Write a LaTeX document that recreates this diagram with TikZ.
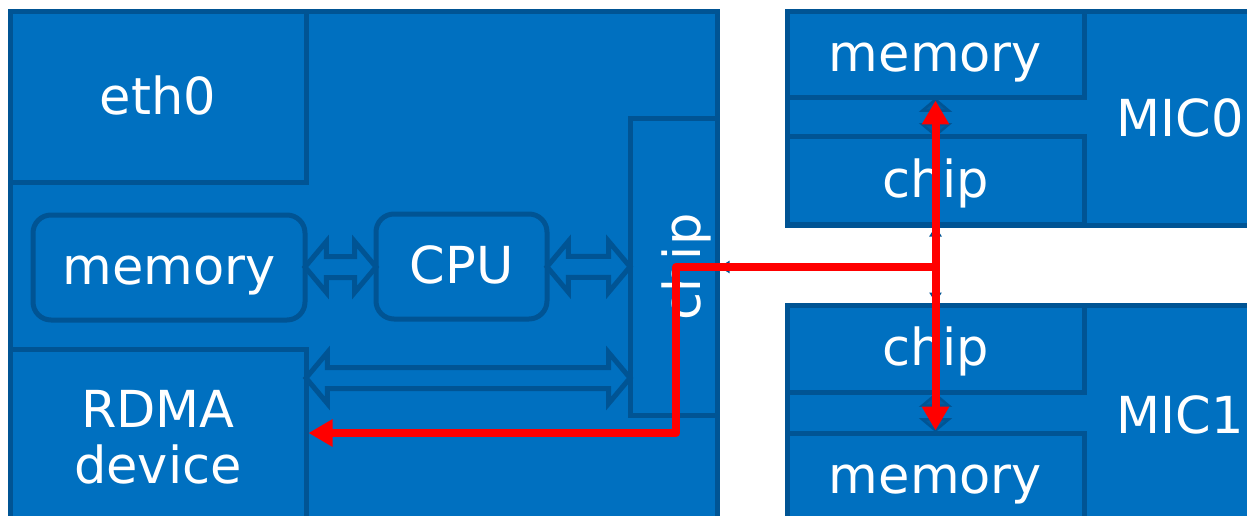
\documentclass[tikz,border=0pt]{standalone}
\usepackage{fontspec}
\setmainfont{DejaVu Sans}
\usetikzlibrary{shapes.arrows,arrows.meta,calc}
\definecolor{boxblue}{RGB}{0,112,192}
\definecolor{edgeblue}{RGB}{0,84,148}
\begin{document}
\begin{tikzpicture}[x=1pt, y=-1pt, >={Triangle[width=26pt,length=24pt]},
  txt/.style={text=white, font=\fontsize{51}{56}\selectfont, inner sep=0pt, align=center},
  one/.style={text height=46pt, text depth=12pt},
  blk/.style={txt, draw=edgeblue, fill=boxblue, line width=5pt},
  bus/.style={double arrow, draw=edgeblue, fill=boxblue, line width=5pt, inner xsep=0pt, inner ysep=8pt, double arrow head extend=15pt, double arrow tip angle=100},
  vbus/.style={bus, shape border rotate=90, fill=edgeblue!70!boxblue, inner ysep=9pt, double arrow head extend=12pt, line width=2.5pt},
  link/.style={draw=edgeblue, line width=2.5pt, -{Triangle[width=12pt,length=10pt]}},
  redline/.style={draw=red, line width=8pt, line join=round}]
\clip (0,0) rectangle (1247,516);
\node[blk, minimum width=707pt, minimum height=548pt] (host) at (363.5,286) {};
\node[blk, one, minimum width=296pt, minimum height=170pt] (eth) at (158,97) {eth0};
\node[blk, one, rounded corners=18pt, minimum width=272pt, minimum height=105pt] (mem) at (169,267.5) {memory};
\node[blk, one, rounded corners=18pt, minimum width=171pt, minimum height=105pt] (cpu) at (461.5,266.5) {CPU};
\node[blk, minimum width=87pt, minimum height=296pt] (chip) at (673.5,267) {};
\node[txt, one, rotate=90] (chiptxt) at ([xshift=10pt]chip.center) {chip};
\node[blk, minimum width=296pt, minimum height=176pt] (rdma) at (158,437) {RDMA\\device};
\coordinate (busy) at (0,378);
\node[bus, minimum height=71pt] (memcpu) at ($(mem.east)!0.5!(cpu.west)$) {};
\node[bus, minimum height=83pt] (cpuchip) at ($(cpu.east)!0.5!(chip.west)$) {};
\node[bus, minimum height=324pt] (rdmachip) at ($(rdma.east |- busy)!0.5!(chip.west |- busy)$) {};
\node[blk, minimum width=503pt, minimum height=213pt] (mic0) at (1038.5,118.5) {};
\node[blk, one, minimum width=297pt, minimum height=86pt] (mem0) at (935.5,55) {memory};
\node[blk, one, minimum width=297pt, minimum height=87pt] (chip0) at (935.5,180.5) {chip};
\node[txt, one] (mic0txt) at (1180,120) {MIC0};
\node[vbus, minimum height=36pt] (v0) at ($(mem0.south)!0.5!(chip0.north)$) {};
\node[blk, minimum width=503pt, minimum height=255pt] (mic1) at (1038.5,432.5) {};
\node[blk, one, minimum width=297pt, minimum height=87pt] (chip1) at (935.5,348.5) {chip};
\node[blk, one, minimum width=297pt, minimum height=87pt] (mem1) at (935.5,476.5) {memory};
\node[txt, one] (mic1txt) at (1180,416) {MIC1};
\node[vbus, minimum height=36pt] (v1) at ($(chip1.south)!0.5!(mem1.north)$) {};
\coordinate (hub) at (mem0.south |- chip.center);
\coordinate (bend) at (676,433);
\draw[link] (hub) -- (chip.east |- hub);
\draw[link] (hub) -- (chip0.south);
\draw[link] (hub) -- (chip1.north);
\draw[redline, <->] (mem0.south) -- (mem1.north);
\draw[redline, ->] (hub) -| (bend) -- (bend -| rdma.east);
\end{tikzpicture}
\end{document}
